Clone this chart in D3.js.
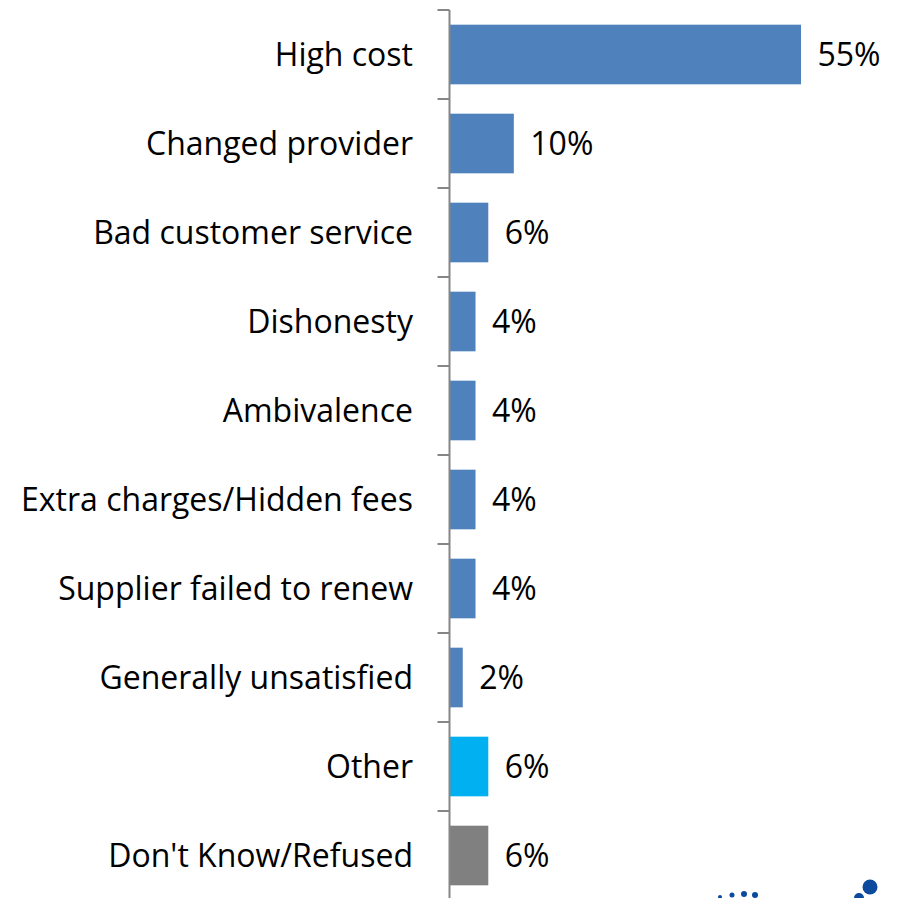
<!DOCTYPE html>
<html>
<head>
<meta charset="utf-8">
<script src="https://cdn.jsdelivr.net/npm/d3@7"></script>
<style>
  html, body { margin: 0; padding: 0; background: #fff; }
  svg { display: block; }
  text { font-family: "Open Sans", "Noto Sans", sans-serif; fill: #000; }
</style>
</head>
<body>
<svg id="chart" width="903" height="898"></svg>
<script>
// Reasons for leaving a provider, share of respondents (%)
const categories = [
  "High cost",
  "Changed provider",
  "Bad customer service",
  "Dishonesty",
  "Ambivalence",
  "Extra charges/Hidden fees",
  "Supplier failed to renew",
  "Generally unsatisfied",
  "Other",
  "Don't Know/Refused"
];
const values = [55, 10, 6, 4, 4, 4, 4, 2, 6, 6];
const barColors = ["#4f81bd", "#4f81bd", "#4f81bd", "#4f81bd", "#4f81bd",
                   "#4f81bd", "#4f81bd", "#4f81bd", "#00b0f0", "#808080"];

const svg = d3.select("#chart");
const axisX = 449.5;
const plotTop = 10, plotBottom = 900;

const x = d3.scaleLinear().domain([0, 55]).range([axisX, axisX + 351]);
const y = d3.scaleBand().domain(categories).range([plotTop, plotBottom]).paddingInner(0.33).paddingOuter(0.165);

const rows = categories.map((c, i) => ({ cat: c, value: values[i], color: barColors[i] }));

// bars
svg.append("g").selectAll("rect").data(rows).join("rect")
  .attr("x", x(0) + 0.5)
  .attr("y", d => y(d.cat))
  .attr("width", d => x(d.value) - x(0))
  .attr("height", y.bandwidth())
  .attr("fill", d => d.color);

// category axis: vertical line with ticks between categories
const edges = d3.range(categories.length + 1).map(i => plotTop + i * (plotBottom - plotTop) / categories.length);
const ax = svg.append("g").attr("stroke", "#868686").attr("stroke-width", 2);
ax.append("line").attr("x1", axisX).attr("x2", axisX).attr("y1", plotTop).attr("y2", plotBottom);
ax.selectAll("line.tick").data(edges).join("line").attr("class", "tick")
  .attr("x1", axisX - 12).attr("x2", axisX).attr("y1", d => d).attr("y2", d => d);

// category labels
svg.append("g").selectAll("text").data(rows).join("text")
  .attr("x", 413)
  .attr("y", d => y(d.cat) + y.bandwidth() / 2)
  .attr("dy", "0.36em")
  .attr("text-anchor", "end")
  .attr("font-size", 32)
  .text(d => d.cat);

// value labels
svg.append("g").selectAll("text").data(rows).join("text")
  .attr("x", d => x(d.value) + 17)
  .attr("y", d => y(d.cat) + y.bandwidth() / 2)
  .attr("dy", "0.36em")
  .attr("font-size", 32)
  .text(d => d.value + "%");

// corner logo fragment
const logo = svg.append("g").attr("fill", "#0b4a9c");
logo.append("circle").attr("cx", 870).attr("cy", 887).attr("r", 7.5);
logo.append("circle").attr("cx", 859).attr("cy", 898).attr("r", 5);
logo.append("circle").attr("cx", 732).attr("cy", 895).attr("r", 2.5);
logo.append("circle").attr("cx", 744).attr("cy", 894).attr("r", 3);
logo.append("circle").attr("cx", 755).attr("cy", 895).attr("r", 3);
logo.append("circle").attr("cx", 720).attr("cy", 897).attr("r", 2);
</script>
</body>
</html>
